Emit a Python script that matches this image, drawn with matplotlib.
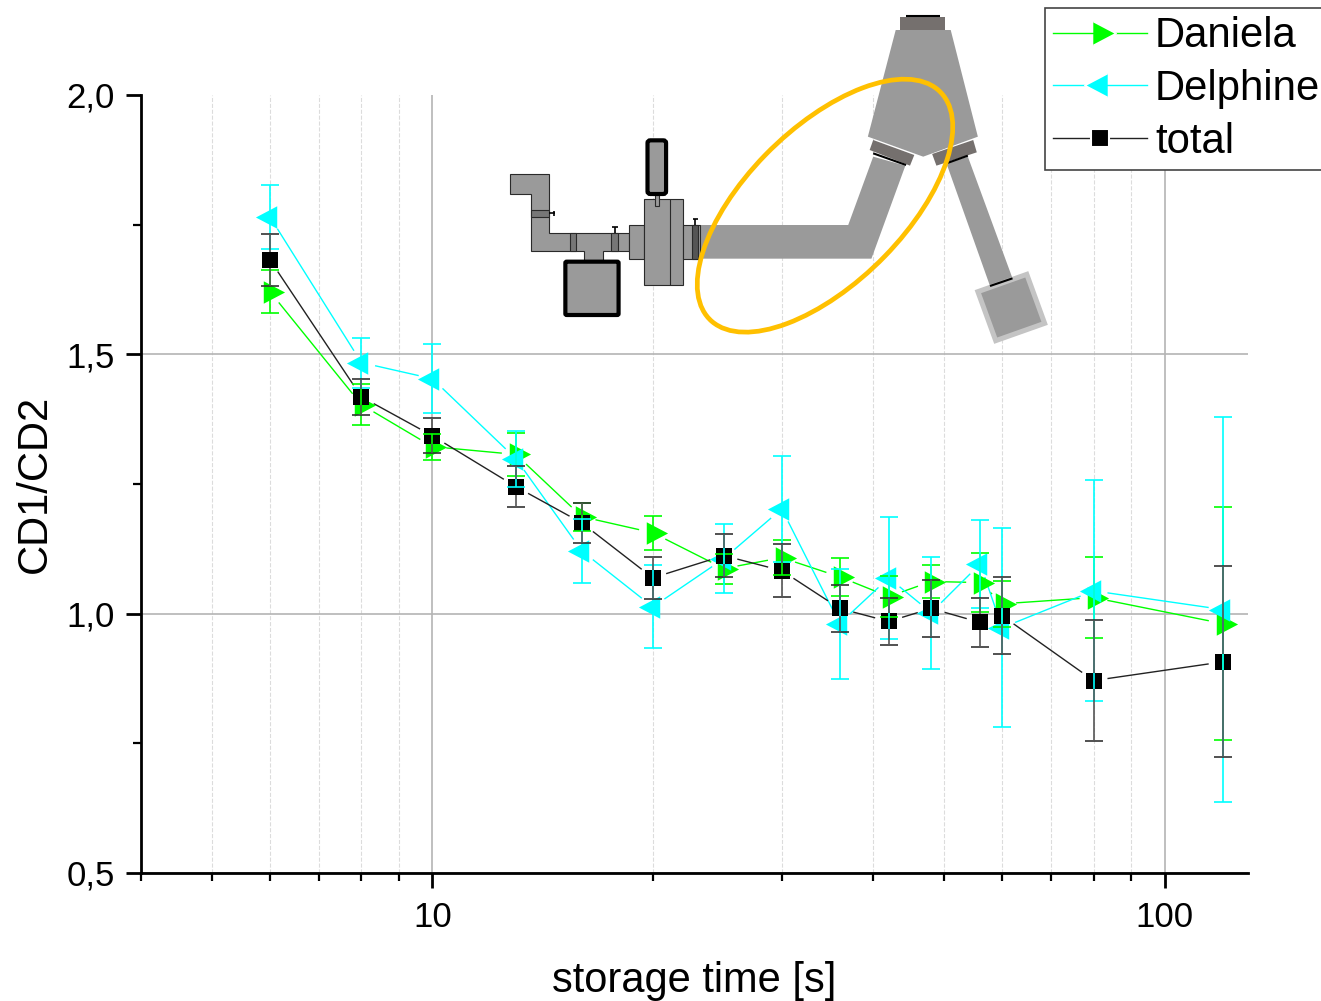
import numpy as np
import matplotlib
matplotlib.use('Agg')
import matplotlib.pyplot as plt
import matplotlib.ticker as ticker
from matplotlib.lines import Line2D
from matplotlib.patches import Polygon, Rectangle, Ellipse, FancyBboxPatch

plt.rcParams['font.family'] = ['Liberation Sans', 'DejaVu Sans']

storage_time = [6, 8, 10, 13, 16, 20, 25, 30, 36, 42, 48, 56, 60, 80, 120]

daniela = [1.621, 1.403, 1.322, 1.307, 1.187, 1.156, 1.087, 1.108, 1.071, 1.033, 1.062, 1.060, 1.019, 1.031, 0.981]
daniela_err = [0.042, 0.039, 0.025, 0.041, 0.027, 0.033, 0.029, 0.034, 0.036, 0.039, 0.031, 0.057, 0.044, 0.078, 0.224]

delphine = [1.765, 1.484, 1.453, 1.299, 1.121, 1.013, 1.106, 1.202, 0.981, 1.069, 1.002, 1.096, 0.973, 1.044, 1.008]
delphine_err = [0.061, 0.048, 0.067, 0.054, 0.062, 0.080, 0.067, 0.102, 0.106, 0.117, 0.108, 0.085, 0.192, 0.213, 0.372]

total = [1.682, 1.418, 1.343, 1.245, 1.175, 1.069, 1.112, 1.083, 1.010, 0.985, 1.010, 0.983, 0.996, 0.871, 0.907]
total_err = [0.050, 0.035, 0.034, 0.039, 0.039, 0.040, 0.042, 0.051, 0.045, 0.046, 0.055, 0.048, 0.074, 0.116, 0.184]

y_ticks = [0.5, 1.0, 1.5, 2.0]

GREEN = '#00ff00'
CYAN = '#00ffff'
W, H = 1321, 1001

# triangles in Origin sit off-centre, so plain '>' and '<' are a bit off
TRI_RIGHT = [(-0.6, -1), (1.3, 0), (-0.6, 1)]
TRI_LEFT = [(0.6, -1), (-1.3, 0), (0.6, 1)]
TRI_SIZE = 21

fig = plt.figure(figsize=(W / 100, H / 100), dpi=100)
ax = fig.add_axes([141 / W, 1 - 873 / H, (1248 - 141) / W, (873 - 95) / H])
ax.set_xscale('log')
ax.set_xlim(4, 130)
ax.set_ylim(0.5, 2.0)

ax.spines['top'].set_visible(False)
ax.spines['right'].set_visible(False)
ax.spines['left'].set_linewidth(2)
ax.spines['bottom'].set_linewidth(2)

ax.set_yticks(y_ticks)
ax.yaxis.set_major_formatter(ticker.FuncFormatter(lambda v, _: f'{v:.1f}'.replace('.', ',')))
ax.yaxis.set_minor_locator(ticker.MultipleLocator(0.25))
ax.xaxis.set_major_locator(ticker.LogLocator(base=10, numticks=5))
ax.xaxis.set_major_formatter(ticker.FuncFormatter(lambda v, _: f'{v:.0f}'))
ax.xaxis.set_minor_locator(ticker.LogLocator(base=10, subs=range(2, 10), numticks=5))
ax.xaxis.set_minor_formatter(ticker.NullFormatter())
ax.tick_params(which='major', length=11, width=2, labelsize=25)
ax.tick_params(which='minor', length=5.5, width=1.6)
ax.tick_params(axis='x', which='major', pad=9)
ax.tick_params(axis='y', which='major', pad=8)

ax.grid(True, which='major', color='#b4b4b4', linewidth=1.2)
ax.grid(True, which='minor', axis='x', color='#dcdcdc', linewidth=0.8, linestyle='--')
ax.yaxis.get_major_ticks()[-1].gridline.set_visible(False)
ax.set_axisbelow(True)

ax.set_xlabel('storage time [s]', fontsize=30, labelpad=19.5)
ax.set_ylabel('CD1/CD2', fontsize=30, labelpad=8)


def gapped_line(x, y, color, gap=14):
    # connecting line stops short of the markers
    pts = ax.transData.transform(np.column_stack([x, y]))
    inv = ax.transData.inverted()
    for a, b in zip(pts[:-1], pts[1:]):
        length = np.hypot(*(b - a))
        if length <= 2 * gap:
            continue
        u = (b - a) / length
        seg = inv.transform([a + u * gap, b - u * gap])
        ax.plot(seg[:, 0], seg[:, 1], color=color, linewidth=1.0, zorder=2, solid_capstyle='butt')


def stems_outside_marker(x, y, err, color, half=8):
    # black stems stop at the square, the cyan bars show through it
    inv = ax.transData.inverted()
    for xi, yi, e in zip(x, y, err):
        px = ax.transData.transform((xi, yi))
        top = inv.transform((px[0], px[1] + half))[1]
        bottom = inv.transform((px[0], px[1] - half))[1]
        ax.vlines([xi, xi], [top, yi - e], [yi + e, bottom], color=color, linewidth=1.2, zorder=4.2)


gapped_line(storage_time, daniela, GREEN)
gapped_line(storage_time, delphine, CYAN)
gapped_line(storage_time, total, '#222222')

ax.plot(storage_time, daniela, linestyle='none', marker=TRI_RIGHT, markersize=TRI_SIZE, color=GREEN, markeredgewidth=0, zorder=3)
ax.plot(storage_time, delphine, linestyle='none', marker=TRI_LEFT, markersize=TRI_SIZE, color=CYAN, markeredgewidth=0, zorder=3.1)
ax.plot(storage_time, total, linestyle='none', marker='s', markersize=11.8, color='black', markeredgewidth=0, zorder=3.2)

ax.errorbar(storage_time, daniela, yerr=daniela_err, fmt='none', ecolor=GREEN, elinewidth=1.2, capsize=6.8, capthick=1.2, zorder=4)
ax.errorbar(storage_time, delphine, yerr=delphine_err, fmt='none', ecolor=CYAN, elinewidth=1.2, capsize=6.8, capthick=1.2, zorder=4.1)
ax.errorbar(storage_time, total, yerr=total_err, fmt='none', ecolor='#333333', elinewidth=0, capsize=6.8, capthick=1.2, zorder=4.2)
stems_outside_marker(storage_time, total, total_err, '#555555')

# beamline sketch, in the units of a crop: 2.8 per pixel across, 3 per pixel down
sk = fig.add_axes([0, 0, 1, 1], zorder=2)
sk.set_xlim(-1400, 2298.8)
sk.set_ylim(3003, 0)
sk.axis('off')
GREY = '#9a9a9a'
DARK = '#75706e'
OUT = '#2a2a2a'


def poly(verts, fc=GREY, ec='none', lw=0.0, z=1):
    sk.add_patch(Polygon(verts, closed=True, facecolor=fc, edgecolor=ec, linewidth=lw, zorder=z))


def rect(x0, y0, x1, y1, fc=GREY, ec=OUT, lw=0.8, z=2):
    sk.add_patch(Rectangle((x0, y0), x1 - x0, y1 - y0, facecolor=fc, edgecolor=ec, linewidth=lw, zorder=z))


def stroke(x0, y0, x1, y1, lw=1.5, color='black', z=4):
    sk.plot([x0, x1], [y0, y1], color=color, linewidth=lw, zorder=z, solid_capstyle='butt')


poly([(27, 523), (137, 523), (137, 698), (362, 698), (362, 752), (287, 752), (287, 782),
      (235, 782), (235, 752), (86, 752), (86, 582), (27, 582)], ec=OUT, lw=0.8)
rect(86, 630, 137, 650, fc='#777777')
stroke(137, 640, 155, 640, lw=1.2)
stroke(151, 632, 151, 648, lw=1.2)
rect(195, 698, 213, 752, fc='#777777')
rect(312, 698, 330, 752, fc='#777777')
stroke(322, 698, 322, 682, lw=1.2)
stroke(314, 681, 330, 681, lw=1.2)
rect(362, 674, 402, 776)
rect(402, 596, 512, 855)
stroke(475, 596, 475, 855, lw=0.8, color=OUT)
rect(512, 674, 560, 776)
rect(538, 674, 555, 776, fc='#555555')
stroke(547, 674, 547, 658, lw=1.2)
stroke(539, 657, 555, 657, lw=1.2)
rect(433, 582, 444, 618)
sk.add_patch(FancyBboxPatch((413, 421), 52, 161, boxstyle='round,pad=0,rounding_size=8',
                            facecolor=GREY, edgecolor='black', linewidth=3, zorder=3))
sk.add_patch(FancyBboxPatch((183, 785), 149, 160, boxstyle='round,pad=0,rounding_size=4',
                            facecolor=GREY, edgecolor='black', linewidth=3, zorder=3))

poly([(560, 675), (975, 675), (1045, 470), (1135, 497), (1040, 776), (560, 776)])
poly([(1250, 490), (1310, 470), (1435, 835), (1372, 858)])
poly([(1045, 420), (1160, 465), (1148, 497), (1035, 450)], fc=DARK)
poly([(1210, 462), (1325, 420), (1335, 457), (1222, 497)], fc=DARK)
poly([(1120, 52), (1245, 52), (1245, 92), (1120, 92)], fc=DARK)
poly([(1108, 90), (1262, 90), (1338, 410), (1185, 470), (1030, 410)], z=2)
stroke(1137, 48, 1233, 48, lw=1.5)
stroke(1045, 460, 1137, 495)
stroke(1250, 490, 1310, 467)
stroke(1372, 858, 1435, 835)
poly([(1338, 875), (1475, 823), (1525, 970), (1388, 1022)], ec='#c4c4c4', lw=3.6)
sk.add_patch(Ellipse((910, 617), 940, 452, angle=-47.7, fill=False, edgecolor='#ffc000', linewidth=3.4, zorder=5))

handles = [
    Line2D([], [], color=GREEN, linewidth=1, marker=TRI_RIGHT, markersize=TRI_SIZE + 1.5, markerfacecolor=GREEN, markeredgecolor='white', markeredgewidth=1.2),
    Line2D([], [], color=CYAN, linewidth=1, marker=TRI_LEFT, markersize=TRI_SIZE + 1.5, markerfacecolor=CYAN, markeredgecolor='white', markeredgewidth=1.2),
    Line2D([], [], color='#222222', linewidth=1, marker='s', markersize=12.8, markerfacecolor='black', markeredgecolor='white', markeredgewidth=1.5),
]
leg = fig.legend(handles, ['Daniela', 'Delphine', 'total'], loc='upper left',
                 bbox_to_anchor=(1045 / W, 1 - 8 / H), borderaxespad=0, fontsize=30.2,
                 handlelength=2.22, handletextpad=0.2, borderpad=0.2, labelspacing=0.3,
                 fancybox=False, framealpha=1, edgecolor='#444444')
leg.get_frame().set_linewidth(1.2)
leg.set_zorder(6)

plt.savefig('out.png', dpi=100)
